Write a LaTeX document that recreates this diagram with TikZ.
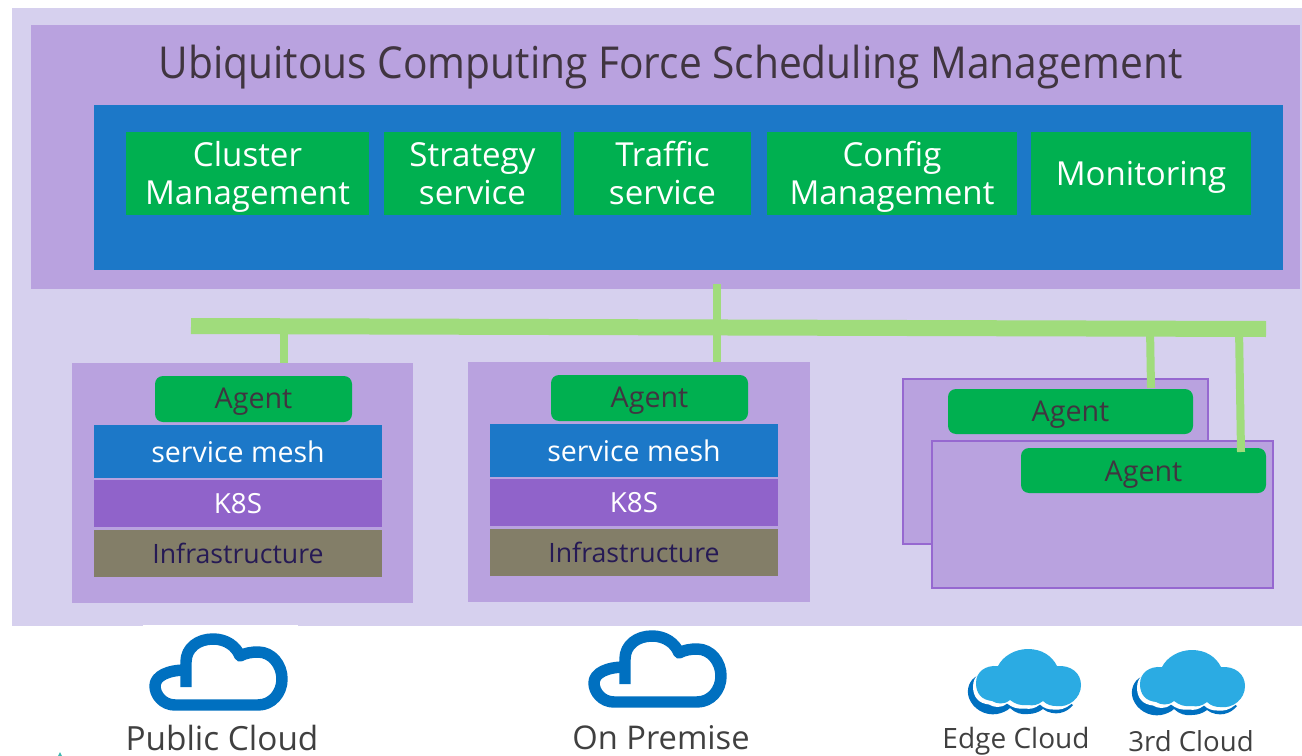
\documentclass[tikz,border=0pt]{standalone}
\usepackage{fontspec}
\setmainfont{Open Sans}
\newfontfamily\titlefont[FakeStretch=0.925]{Open Sans}
\definecolor{bglav}{HTML}{D6D0EE}
\definecolor{panel}{HTML}{B9A2DF}
\definecolor{blueb}{HTML}{1C78C8}
\definecolor{greenb}{HTML}{00B050}
\definecolor{busg}{HTML}{A0DC7C}
\definecolor{purpb}{HTML}{9063CA}
\definecolor{infra}{HTML}{837E68}
\definecolor{edgeb}{HTML}{9668D0}
\definecolor{dtext}{HTML}{403540}
\definecolor{ctext}{HTML}{404040}
\definecolor{itext}{HTML}{261A55}
\definecolor{cloudd}{HTML}{0070C0}
\definecolor{cloudl}{HTML}{2BABE3}
\definecolor{specks}{HTML}{3FB8B0}
\newcommand{\fs}[2]{\fontsize{#1}{#2}\selectfont}
\newcommand{\lph}{\vphantom{Slg}}
\newcommand{\lpt}{\rule{0pt}{23.5pt}}
\newcommand{\bx}[7]{\node[#6,minimum width={((#4)-(#2))*0.75pt},minimum height={((#5)-(#3))*0.75pt}] (#1) at ({((#2)+(#4))/2},{((#3)+(#5))/2}) {#7};}
\newcommand{\softcloud}{(976,683) .. controls (976,672) and (985,665) .. (998,666) .. controls (1003,656) and (1015,649) .. (1028,649) .. controls (1042,649) and (1052,656) .. (1057,666) .. controls (1071,665) and (1081,673) .. (1081,685) .. controls (1081,698) and (1069,708) .. (1056,706) .. controls (1052,706) and (1047,705) .. (1043,701) .. controls (1038,705) and (1033,706) .. (1028,705) .. controls (1021,706) and (1015,704) .. (1010,700) .. controls (1004,705) and (997,704) .. (992,701) .. controls (982,700) and (976,694) .. (976,683) -- cycle}
\newcommand{\softback}{(977,676) .. controls (969,680) and (966,690) .. (969,698) .. controls (973,709) and (985,716) .. (997,714) .. controls (1002,713) and (1007,711) .. (1010,708) .. controls (1015,713) and (1022,715) .. (1028,714) .. controls (1034,714) and (1039,712) .. (1043,709) .. controls (1048,713) and (1055,714) .. (1060,713) .. controls (1065,712) and (1070,709) .. (1073,705) -- (1050,690) -- (990,680) -- cycle}
\tikzset{
  plain/.style={inner sep=0pt,outer sep=0pt,rectangle},
  greenbox/.style={plain,fill=greenb,text=white,align=center,font=\fs{24.8}{28.5}},
  monobox/.style={greenbox,text height=22.6pt,text depth=4.8pt},
  agentbox/.style={plain,fill=greenb,rounded corners=6pt,text=dtext,font=\fs{21.5}{25},text height=19.4pt,text depth=5.6pt},
  meshbox/.style={plain,fill=blueb,text=white,font=\fs{21.4}{25}},
  k8sbox/.style={plain,fill=purpb,text=white,font=\fs{20.8}{25}},
  infrabox/.style={plain,fill=infra,text=itext,font=\fs{20}{24}},
  panelbox/.style={plain,fill=panel},
  stackback/.style={plain,fill=panel,draw=edgeb,line width=1.6pt},
  stackfront/.style={plain,fill=panel,draw=edgeb,line width=1pt},
  busline/.style={busg,line width=6pt},
  caption/.style={inner sep=0pt,text=ctext},
  ringcloud/.pic={
    \draw[cloudd,line width=8.6pt,line join=round]
      (186,687) -- (186,662) .. controls (186,648) and (198,639) .. (213,639)
      .. controls (226,639) and (236,646) .. (240,656)
      .. controls (245,653) and (252,652) .. (258,652)
      .. controls (272,652) and (282,665) .. (282,679)
      .. controls (282,693) and (272,705) .. (258,705)
      -- (175,705) .. controls (163,705) and (155,695) .. (155,686)
      .. controls (155,676) and (168,670) .. (186,670);
  },
  softc/.pic={
    \fill[cloudd] \softback;
    \fill[white,shift={(-3,3.5)}] \softcloud;
    \fill[cloudl] \softcloud;
  }
}
\begin{document}
\begin{tikzpicture}[x=0.75pt,y=-0.75pt]
\useasboundingbox (0,0) rectangle (1302,756);
\fill[white] (0,0) rectangle (1302,756);
\fill[bglav] (12,8) rectangle (1302,626);
\fill[white] (143,625) rectangle (298,626);
\fill[specks] (58,756) -- (60,752) -- (62,756) -- cycle;
\bx{top}{31}{25}{1300}{289}{panelbox}{}
\node[inner sep=0pt,text=dtext,font=\titlefont\fs{33}{38}] (title) at (670.5,67) {Ubiquitous Computing Force Scheduling Management};
\bx{core}{94}{105}{1283}{270}{plain,fill=blueb}{}
\bx{g1}{126}{132}{369}{215}{greenbox}{\lpt Cluster\\\lph Management}
\bx{g2}{384}{132}{561}{215}{greenbox}{\lpt Strategy\\\lph service}
\bx{g3}{574}{132}{751}{215}{greenbox}{\lpt Traffic\\\lph service}
\bx{g4}{767}{132}{1017}{215}{greenbox}{\lpt Config\\\lph Management}
\bx{g5}{1031}{132}{1251}{215}{monobox}{Monitoring}
% left cluster
\bx{p1}{72}{363}{413}{603}{panelbox}{}
\bx{a1}{155}{376}{352}{422}{agentbox}{Agent}
\bx{m1}{94}{425}{382}{478}{meshbox}{service mesh}
\bx{k1}{94}{480}{382}{527}{k8sbox}{K8S}
\bx{i1}{94}{530}{382}{577}{infrabox}{Infrastructure}
% middle cluster
\bx{p2}{468}{362}{810}{602}{panelbox}{}
\bx{a2}{551}{375}{748}{421}{agentbox}{Agent}
\bx{m2}{490}{424}{778}{477}{meshbox}{service mesh}
\bx{k2}{490}{479}{778}{526}{k8sbox}{K8S}
\bx{i2}{490}{529}{778}{576}{infrabox}{Infrastructure}
% stacked clusters
\bx{p3}{903}{379}{1208}{544}{stackback}{}
\bx{a3}{948}{389}{1193}{434}{agentbox,text height=20.9pt}{Agent}
\bx{p4}{932}{441}{1273}{588}{stackfront}{}
\bx{a4}{1021}{448}{1266}{493}{agentbox,text height=22.4pt}{Agent}
% bus
\coordinate (busL) at (191,326);
\coordinate (busR) at (1266,329);
\coordinate (d1) at (284,326);
\coordinate (d2) at (717,284);
\coordinate (d3) at (1150,328);
\coordinate (d3e) at (1151,388);
\coordinate (d4) at (1239,328);
\coordinate (d4e) at (1241,452);
\draw[busline] (d1) -- (d1 |- p1.north);
\draw[busline] (d2) -- (d2 |- p2.north);
\draw[busline] (d3) -- (d3e);
\draw[busline] (d4) -- (d4e);
\draw[busg,line width=12pt] (busL) -- (busR);
% clouds
\pic at (0,0) {ringcloud};
\pic at (439,-3) {ringcloud};
\pic at (0,0) {softc};
\pic at (164,1) {softc};
\node[caption,font=\fs{25}{30}] (c1) at (222,738) {Public Cloud};
\node[caption,font=\fs{24.5}{30}] (c2) at (661,738) {On Premise};
\node[caption,font=\fs{21}{25}] (c3) at (1016,741) {Edge Cloud};
\node[caption,font=\fs{20.7}{25}] (c4) at (1191,741) {3rd Cloud};
\end{tikzpicture}
\end{document}
